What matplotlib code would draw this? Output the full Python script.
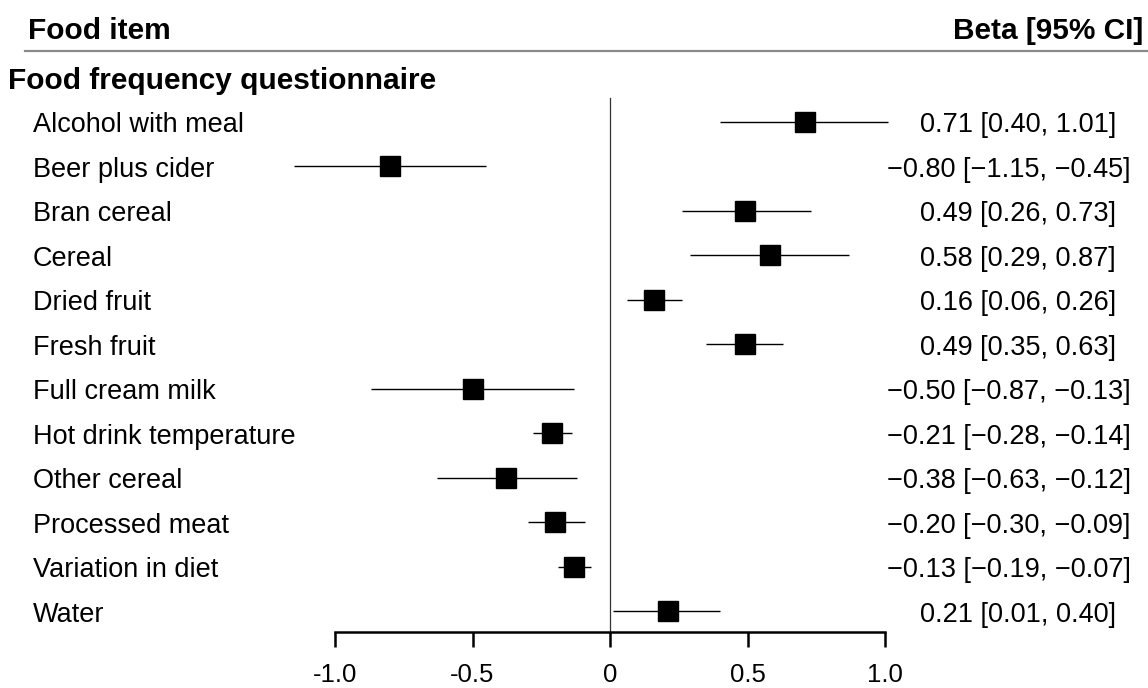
import numpy as np
import matplotlib
matplotlib.use("Agg")
import matplotlib.pyplot as plt

plt.rcParams['font.family'] = ['Liberation Sans', 'DejaVu Sans']

foods = ["Alcohol with meal", "Beer plus cider", "Bran cereal", "Cereal",
         "Dried fruit", "Fresh fruit", "Full cream milk", "Hot drink temperature",
         "Other cereal", "Processed meat", "Variation in diet", "Water"]
beta = [0.71, -0.80, 0.49, 0.58, 0.16, 0.49, -0.50, -0.21, -0.38, -0.20, -0.13, 0.21]
ci_lo = [0.40, -1.15, 0.26, 0.29, 0.06, 0.35, -0.87, -0.28, -0.63, -0.30, -0.19, 0.01]
ci_hi = [1.01, -0.45, 0.73, 0.87, 0.26, 0.63, -0.13, -0.14, -0.12, -0.09, -0.07, 0.40]
xticks = [-1.0, -0.5, 0, 0.5, 1.0]
xticklabels = ["-1.0", "-0.5", "0", "0.5", "1.0"]

W, H = 1148, 688
fig = plt.figure(figsize=(W/100, H/100), dpi=100)
ax = fig.add_axes([0, 0, 1, 1])

# pixel layout: x=0 at 610px, 275px per unit; rows at 121px + 44.545px*k
x0px, xs = 610, 275.0
y0px, ys = 121.5, 44.545
ax.set_xlim((0 - x0px)/xs, (W - x0px)/xs)
ax.set_ylim((H - y0px)/ys, (0 - y0px)/ys)

n = len(foods)
rows = np.arange(n)
txt_off = 3.5/ys  # text sits a bit lower than the marks

ax.plot([0, 0], [(98 - y0px)/ys, (632 - y0px)/ys], color='#333333', lw=0.9, zorder=1)
ax.hlines(rows, ci_lo, ci_hi, color='black', lw=1.0, zorder=2)
ax.plot(beta, rows, 's', color='black', ms=13.8, zorder=3)

tr = ax.get_yaxis_transform()
for i, name in enumerate(foods):
    ax.text(33/W, i + txt_off, name, transform=tr, fontsize=19.5, va='center', ha='left')
    s = "%.2f [%.2f, %.2f]" % (beta[i], ci_lo[i], ci_hi[i])
    xpos = 887 if beta[i] < 0 else 920
    s = s.replace('-', '\u2212')
    ax.text(xpos/W, i + txt_off, s, transform=tr, fontsize=19.5, va='center', ha='left')

for sp in ['left', 'top', 'right']:
    ax.spines[sp].set_visible(False)
ax.spines['bottom'].set_position(('data', (632 - y0px)/ys))
ax.spines['bottom'].set_bounds(-1, 1)
ax.spines['bottom'].set_linewidth(1.8)
ax.set_xticks(xticks)
ax.set_xticklabels(xticklabels, fontsize=18.5)
ax.tick_params(axis='x', direction='out', length=11, width=1.8, pad=11.5)
ax.set_yticks([])

fig.text(28/W, 1 - 31/H, "Food item", fontsize=21.5, fontweight='bold', va='center', ha='left')
fig.text(1143/W, 1 - 31/H, "Beta [95% CI]", fontsize=21.5, fontweight='bold', va='center', ha='right')
fig.text(8/W, 1 - 81/H, "Food frequency questionnaire", fontsize=21.5, fontweight='bold', va='center', ha='left')
fig.add_artist(plt.Line2D([25/W, 1.0], [1 - 50.5/H, 1 - 50.5/H], color='#8a8a8a', lw=1.6))

plt.savefig("out.png", dpi=100)
